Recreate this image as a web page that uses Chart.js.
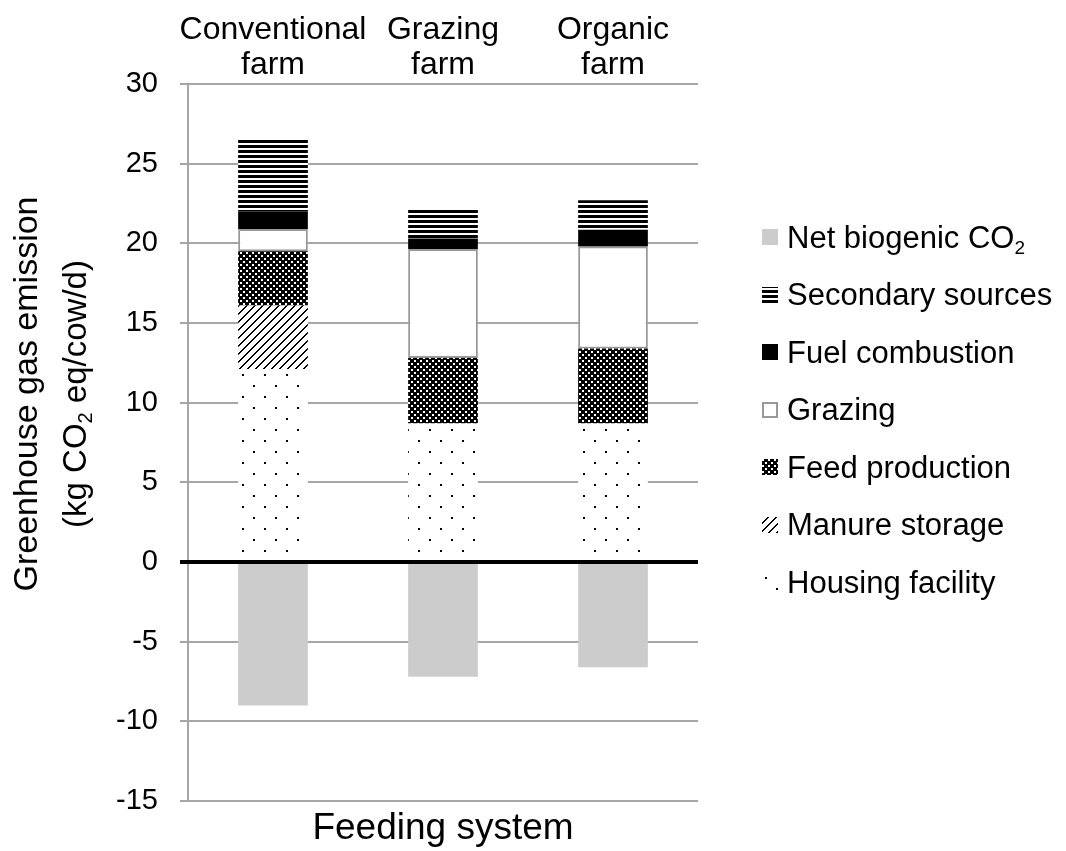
<!DOCTYPE html>
<html>
<head>
<meta charset="utf-8">
<script src="https://cdn.jsdelivr.net/npm/chart.js@4.4.1/dist/chart.umd.min.js"></script>
<style>
  html, body { margin: 0; padding: 0; background: #fff; }
</style>
</head>
<body>
<canvas id="ghg-chart" width="1066" height="851"></canvas>
<script>
// values (kg CO2 eq/cow/d)
const farms = [['Conventional', 'farm'], ['Grazing', 'farm'], ['Organic', 'farm']];
const housingFacility = [12.1, 8.7, 8.7];
const manureStorage = [4.0, 0, 0];
const feedProduction = [3.4, 4.1, 4.7];
const grazing = [1.4, 6.85, 6.4];
const fuelCombustion = [1.1, 0.65, 1.05];
const secondarySources = [4.6, 1.8, 1.85];
const netBiogenicCO2 = [-9.0, -7.2, -6.6];
const yRange = [-15, 30];
const yStep = 5;

const FONT = "'Liberation Sans', Arial, sans-serif";
const GRID = '#a6a6a6';

const canvas = document.getElementById('ghg-chart');
const ctx = canvas.getContext('2d');

function makePattern(w, h, draw) {
    const c = document.createElement('canvas');
    c.width = w;
    c.height = h;
    const g = c.getContext('2d');
    g.fillStyle = '#fff';
    g.fillRect(0, 0, w, h);
    g.fillStyle = '#000';
    draw(g);
    return ctx.createPattern(c, 'repeat');
}

// sparse dots
const dotPattern = makePattern(22, 22, g => {
    g.fillRect(0, 0, 2, 2);
    g.fillRect(11, 11, 2, 2);
});
// "/" diagonal hatching
const diagPattern = makePattern(8, 8, g => {
    for (let i = 0; i < 8; i++) {
        g.fillRect(i, 7 - i, 1, 1);
        g.fillRect(i, (8 - i) % 8, 1, 1);
    }
});
// dense check
const checkPattern = makePattern(6, 6, g => {
    g.fillRect(0, 0, 6, 6);
    g.fillStyle = '#fff';
    g.fillRect(0, 0, 2, 2);
    g.fillRect(3, 3, 2, 2);
});
// horizontal stripes
const stripePattern = makePattern(4, 5, g => {
    g.fillRect(0, 0, 4, 3);
});

const datasets = [
    { label: 'Housing facility', data: housingFacility, backgroundColor: dotPattern },
    { label: 'Manure storage', data: manureStorage, backgroundColor: diagPattern },
    { label: 'Feed production', data: feedProduction, backgroundColor: checkPattern },
    { label: 'Grazing', data: grazing, backgroundColor: '#ffffff', borderColor: '#999999', borderWidth: 2 },
    { label: 'Fuel combustion', data: fuelCombustion, backgroundColor: '#000000' },
    { label: 'Secondary sources', data: secondarySources, backgroundColor: stripePattern },
    { label: 'Net biogenic CO|2', data: netBiogenicCO2, backgroundColor: '#cccccc' }
].map(d => Object.assign({ stack: 'farm', borderSkipped: false, borderWidth: 0 }, d));

// draws "text|sub" with a subscript part
function drawSubText(g, text, x, y, size, align) {
    const parts = text.split('|');
    g.font = size + 'px ' + FONT;
    const w1 = g.measureText(parts[0]).width;
    let w2 = 0, w3 = 0, rest = '';
    if (parts.length > 1) {
        const sub = parts[1].charAt(0);
        rest = parts[1].slice(1);
        g.font = Math.round(size * 0.62) + 'px ' + FONT;
        w2 = g.measureText(sub).width;
        g.font = size + 'px ' + FONT;
        w3 = g.measureText(rest).width;
    }
    let sx = align === 'center' ? x - (w1 + w2 + w3) / 2 : x;
    g.textAlign = 'left';
    g.textBaseline = 'middle';
    g.font = size + 'px ' + FONT;
    g.fillText(parts[0], sx, y);
    if (parts.length > 1) {
        g.font = Math.round(size * 0.62) + 'px ' + FONT;
        g.fillText(parts[1].charAt(0), sx + w1, y + size * 0.3);
        g.font = size + 'px ' + FONT;
        g.fillText(rest, sx + w1 + w2, y);
    }
}

const extras = {
    id: 'extras',
    afterDatasetsDraw(chart) {
        // heavy zero line over the bars
        const g = chart.ctx;
        const y0 = chart.scales.y.getPixelForValue(0);
        g.save();
        g.strokeStyle = '#000';
        g.lineWidth = 4;
        g.beginPath();
        g.moveTo(chart.chartArea.left - 8, y0);
        g.lineTo(chart.chartArea.right, y0);
        g.stroke();
        g.restore();
    },
    afterDraw(chart) {
        const g = chart.ctx;
        g.save();
        g.fillStyle = '#000';

        // y axis title, two rotated lines
        g.save();
        g.translate(28, 394);
        g.rotate(-Math.PI / 2);
        drawSubText(g, 'Greenhouse gas emission', 0, 0, 34, 'center');
        g.restore();
        g.save();
        g.translate(77, 394);
        g.rotate(-Math.PI / 2);
        drawSubText(g, '(kg CO|2 eq/cow/d)', 0, 0, 33, 'center');
        g.restore();

        // legend, top item is the last dataset
        const items = chart.data.datasets.slice().reverse();
        items.forEach((ds, i) => {
            const cy = 239 + i * 57.5;
            // shift pattern origin into the swatch so the marks show
            g.save();
            g.translate(765, Math.round(cy) - 7);
            g.fillStyle = ds.backgroundColor;
            g.fillRect(-3, -3, 16, 16);
            if (ds.borderWidth) {
                g.strokeStyle = ds.borderColor;
                g.lineWidth = 2;
                g.strokeRect(-2, -2, 14, 14);
            }
            g.restore();
            g.fillStyle = '#000';
            drawSubText(g, ds.label, 787, cy, 31, 'left');
        });
        g.restore();
    }
};

new Chart(ctx, {
    type: 'bar',
    data: { labels: farms, datasets: datasets },
    options: {
        responsive: false,
        animation: false,
        devicePixelRatio: 1,
        layout: { padding: { left: 0, right: 368, top: 0, bottom: 0 } },
        datasets: { bar: { categoryPercentage: 1, barPercentage: 0.41 } },
        plugins: { legend: { display: false }, tooltip: { enabled: false } },
        scales: {
            x: {
                position: 'top',
                stacked: true,
                grid: { display: false, drawTicks: false },
                border: { display: false },
                ticks: { color: '#000', font: { family: FONT, size: 32, lineHeight: 1.08 }, padding: 2, maxRotation: 0, autoSkip: false },
                afterFit: s => { s.height = 84; }
            },
            x2: {
                type: 'category',
                labels: farms,
                position: 'bottom',
                grid: { display: false, drawTicks: false },
                border: { display: false },
                ticks: { display: false },
                title: { display: true, text: 'Feeding system', color: '#000', font: { family: FONT, size: 37 }, padding: { top: 1, bottom: 0 } },
                afterFit: s => { s.height = 50; }
            },
            y: {
                stacked: true,
                min: yRange[0],
                max: yRange[1],
                ticks: { stepSize: yStep, color: '#000', font: { family: FONT, size: 29 }, padding: 22 },
                grid: { color: GRID, lineWidth: 2, tickLength: 8, tickColor: GRID, tickWidth: 2 },
                border: { color: GRID, width: 2 },
                afterFit: s => { s.width = 188; }
            }
        }
    },
    plugins: [extras]
});
</script>
</body>
</html>
